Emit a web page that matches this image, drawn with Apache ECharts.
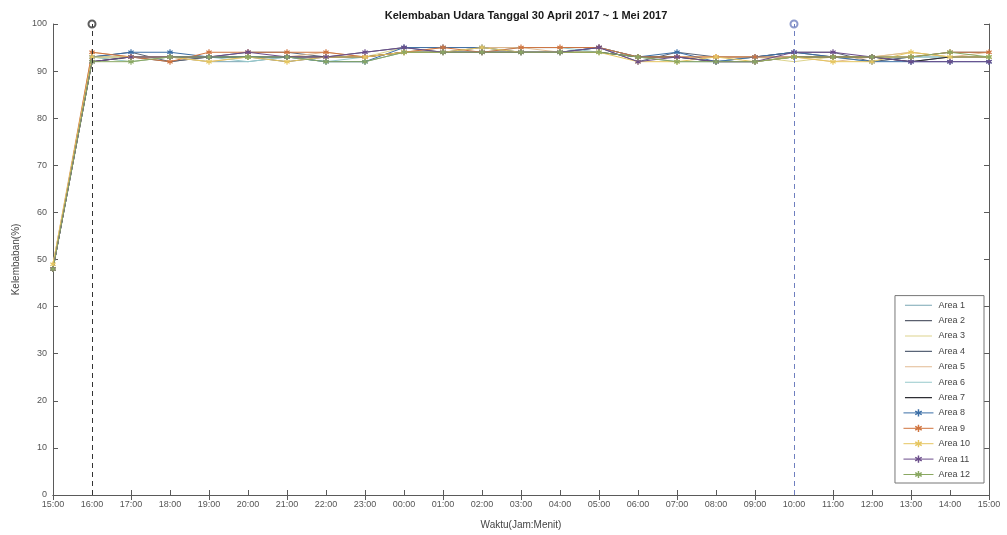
<!DOCTYPE html>
<html>
<head>
<meta charset="utf-8">
<script src="https://cdn.jsdelivr.net/npm/echarts@6/dist/echarts.min.js"></script>
<style>
  html, body { margin: 0; padding: 0; background: #fff; }
  #chart { width: 1007px; height: 535px; }
</style>
</head>
<body>
<div id="chart"></div>
<script>
// Jam pengukuran (30 April 2017 15:00 s/d 1 Mei 2017 15:00)
const waktu = ['15:00','16:00','17:00','18:00','19:00','20:00','21:00','22:00','23:00',
  '00:00','01:00','02:00','03:00','04:00','05:00','06:00','07:00','08:00','09:00',
  '10:00','11:00','12:00','13:00','14:00','15:00'];
const yTicks = [0, 10, 20, 30, 40, 50, 60, 70, 80, 90, 100];

// Kelembaban (%) per area
const area1  = [48,93,93,93,92,92,93,92,92,94,94,94,94,94,94,93,92,92,92,93,93,92,93,93,93];
const area2  = [48,92,93,92,93,93,92,93,93,94,94,95,95,95,95,93,93,92,93,94,93,93,92,93,93];
const area3  = [49,93,92,93,93,93,93,93,93,95,95,95,94,94,95,93,93,93,93,92,93,93,94,93,93];
const area4  = [48,93,94,92,93,94,94,93,94,95,94,94,94,94,95,92,94,93,93,94,94,92,93,94,94];
const area5  = [49,94,93,93,92,93,93,94,93,94,95,95,95,94,94,93,93,93,93,93,92,93,94,93,94];
const area6  = [48,93,92,93,93,92,93,92,93,94,94,94,95,95,94,93,93,92,93,93,93,93,93,93,93];
const area7  = [48,92,93,93,93,93,93,93,93,94,94,94,94,94,94,93,93,92,92,93,93,93,92,93,93];
const area8  = [48,93,94,94,93,93,93,92,92,95,95,95,94,94,95,93,94,92,93,94,93,92,92,92,92];
const area9  = [48,94,93,92,94,94,94,94,93,94,95,94,95,95,95,93,93,93,93,93,93,93,93,94,94];
const area10 = [49,93,93,93,92,93,92,93,93,94,94,95,94,94,94,92,92,93,92,93,92,92,94,93,93];
const area11 = [48,92,93,93,93,94,93,93,94,95,94,94,94,94,95,92,93,92,92,94,94,93,92,92,92];
const area12 = [48,92,92,93,93,93,93,92,92,94,94,94,94,94,94,93,92,92,92,93,93,93,93,94,93];

// Batas periode pengamatan (garis putus-putus vertikal)
const batasWaktu = ['16:00', '10:00'];
const batasNilai = [100, 100];

const areaData = [area1, area2, area3, area4, area5, area6, area7, area8, area9, area10, area11, area12];
const areaNames = areaData.map((_, i) => 'Area ' + (i + 1));
const colors = ['#7aa6b4', '#5a5f6e', '#ddd48e', '#596477', '#e2bb92', '#96c9cc', '#2e2e34',
                '#3b6ea6', '#d0743e', '#e6c660', '#6a4c8a', '#8aa862'];
const batasColors = ['#333333', '#6f7fbf'];
const starPath = 'path://M4,0h2v3.3l2.9-1.7l1,1.7l-2.9,1.7l2.9,1.7l-1,1.7l-2.9-1.7v3.3h-2v-3.3l-2.9,1.7l-1-1.7l2.9-1.7l-2.9-1.7l1-1.7l2.9,1.7z';
// ikon legenda berupa garis tipis saja (tanpa penanda)
const lineIcon = 'path://M0,0h0.01v0.01h-0.01z M0,4.5h30v1.2h-30z M0,9.99h0.01v0.01h-0.01z';

const font = 'Liberation Sans, Arial, sans-serif';
const axisColor = '#5a5a5a';

const series = areaData.map((d, i) => ({
  name: areaNames[i],
  type: 'line',
  data: d,
  xAxisIndex: 0,
  yAxisIndex: 0,
  symbol: i >= 7 ? starPath : 'none',
  symbolSize: 6,
  showSymbol: i >= 7,
  lineStyle: { width: 1, color: colors[i] },
  itemStyle: { color: colors[i] },
  emphasis: { disabled: true },
  z: 3
}));

// garis batas + penanda lingkaran di puncak
series.push({
  name: 'batas',
  type: 'scatter',
  data: batasWaktu.map((t, i) => ({
    value: [t, batasNilai[i]],
    itemStyle: { color: batasColors[i], borderColor: batasColors[i] }
  })),
  symbol: 'emptyCircle',
  symbolSize: 7,
  itemStyle: { borderWidth: 1 },
  markLine: {
    silent: true,
    symbol: 'none',
    label: { show: false },
    data: batasWaktu.map((t, i) => ({
      xAxis: t, lineStyle: { color: batasColors[i], type: [5, 4], width: 1 }
    }))
  },
  clip: false,
  z: 4
});

const chart = echarts.init(document.getElementById('chart'), null, { renderer: 'canvas' });
chart.setOption({
  animation: false,
  backgroundColor: '#fff',
  title: {
    text: 'Kelembaban Udara Tanggal 30 April 2017 ~ 1 Mei 2017',
    left: 521,
    textAlign: 'center',
    top: 5,
    textStyle: { fontFamily: font, fontSize: 11, fontWeight: 'bold', color: '#1a1a1a' }
  },
  grid: { left: 53, right: 18, top: 24, bottom: 40 },
  legend: {
    data: areaNames.map((n, i) => i < 7 ? { name: n, icon: lineIcon } : { name: n }),
    orient: 'vertical',
    right: 23,
    bottom: 52,
    itemWidth: 30,
    itemHeight: 9,
    itemGap: 6.4,
    padding: [5, 14, 4, 8],
    backgroundColor: '#fff',
    borderColor: '#777',
    borderWidth: 1,
    borderRadius: 0,
    lineStyle: { width: 1 },
    textStyle: { fontFamily: font, fontSize: 9, color: '#444' }
  },
  xAxis: [{
    type: 'category',
    data: waktu,
    boundaryGap: false,
    name: 'Waktu(Jam:Menit)',
    nameLocation: 'middle',
    nameGap: 25,
    nameTextStyle: { fontFamily: font, fontSize: 10, color: '#444' },
    axisLine: { lineStyle: { color: axisColor, width: 1 } },
    axisTick: { inside: true, length: 5, alignWithLabel: true, lineStyle: { color: axisColor } },
    axisLabel: { fontFamily: font, fontSize: 9, color: '#555', margin: 5, interval: 0 },
    splitLine: { show: false }
  }, {
    type: 'category',
    data: waktu,
    boundaryGap: false,
    position: 'top',
    axisLine: { lineStyle: { color: axisColor, width: 1 } },
    axisTick: { inside: true, length: 5, lineStyle: { color: axisColor } },
    axisLabel: { show: false },
    splitLine: { show: false }
  }],
  yAxis: [{
    type: 'value',
    min: 0,
    max: 100,
    interval: 10,
    name: 'Kelembaban(%)',
    nameLocation: 'middle',
    nameGap: 26,
    nameTextStyle: { fontFamily: font, fontSize: 10, color: '#444' },
    axisLine: { show: true, lineStyle: { color: axisColor, width: 1 } },
    axisTick: { show: true, inside: true, length: 5, lineStyle: { color: axisColor } },
    axisLabel: { fontFamily: font, fontSize: 9, color: '#555', margin: 6,
      formatter: v => yTicks.includes(v) ? String(v) : '' },
    splitLine: { show: false }
  }, {
    type: 'value',
    min: 0,
    max: 100,
    interval: 10,
    position: 'right',
    axisLine: { show: true, lineStyle: { color: axisColor, width: 1 } },
    axisTick: { show: true, inside: true, length: 5, lineStyle: { color: axisColor } },
    axisLabel: { show: false },
    splitLine: { show: false }
  }],
  series: series
});
</script>
</body>
</html>
